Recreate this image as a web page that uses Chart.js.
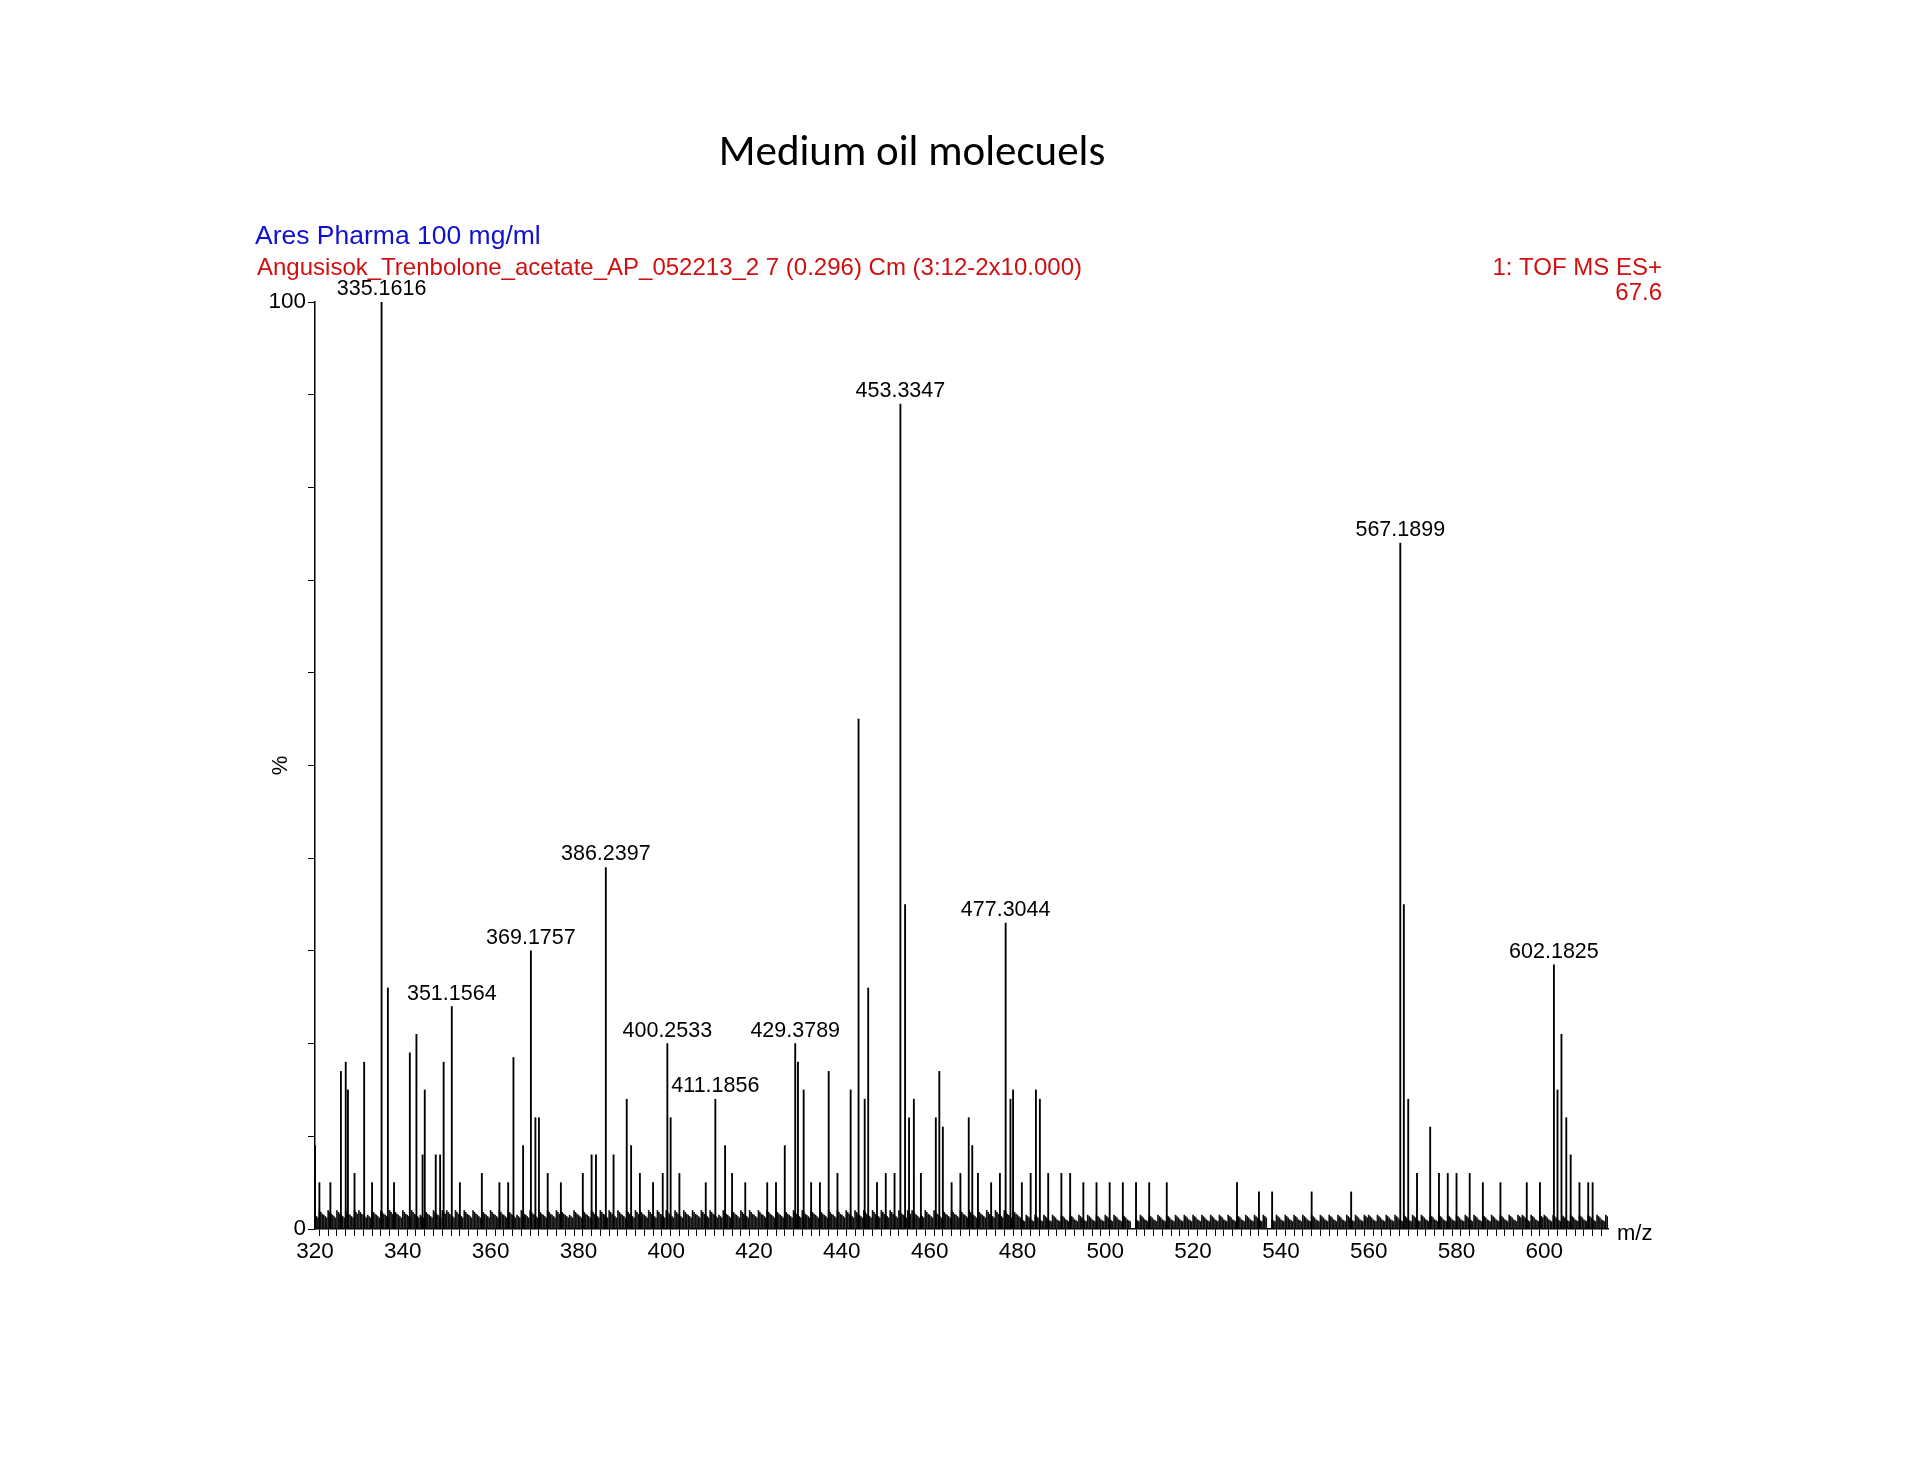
<!DOCTYPE html>
<html>
<head>
<meta charset="utf-8">
<script src="https://cdn.jsdelivr.net/npm/chart.js@4.4.0/dist/chart.umd.min.js"></script>
<style>
  html, body { margin: 0; background: #fff; }
  #wrap { width: 1920px; height: 1484px; }
</style>
</head>
<body>
<div id="wrap"><canvas id="c"></canvas></div>
<script>
// labelled peaks
const labelMz = [335.1616, 351.1564, 369.1757, 386.2397, 400.2533, 411.1856, 429.3789, 453.3347, 477.3044, 567.1899, 602.1825];
const labelPct = [100, 24, 30, 39, 20, 14, 20, 89, 33, 74, 28.5];

// other visible peaks
const peakMz = [320.0, 321.0, 325.9, 327.0, 327.5, 331.2, 336.6, 341.6, 343.1, 345.0, 349.3, 365.2, 367.4, 370.2, 371.0,
  388.0, 391.0, 392.0, 399.2, 401.0, 413.4, 427.0, 430.0, 431.3, 437.0, 442.0, 443.8, 445.2, 446.0, 454.4, 455.3, 456.4,
  461.4, 462.2, 463.0, 468.9, 469.7, 478.4, 479.0, 484.2, 485.1, 568.0, 569.0, 574.0, 583.0, 603.0, 603.9, 605.0, 606.0,
  323.5, 329.0, 333.0, 338.0, 344.5, 347.5, 348.5, 353.0, 358.0, 362.0, 364.0, 373.0, 376.0, 381.0, 383.0, 384.0, 394.0,
  397.0, 403.0, 409.0, 415.0, 418.0, 423.0, 425.0, 433.0, 435.0, 439.0, 448.0, 450.0, 452.0, 458.0, 465.0, 467.0, 471.0,
  474.0, 476.0, 481.0, 483.0, 487.0, 490.0, 492.0, 495.0, 498.0, 501.0, 504.0, 507.0, 510.0, 514.0, 530.0, 535.0, 538.0,
  547.0, 556.0, 571.0, 576.0, 578.0, 580.0, 586.0, 590.0, 596.0, 599.0, 608.0, 610.0, 611.0];
const peakPct = [9, 5, 17, 18, 15, 18, 26, 19, 21, 15, 18, 18.5, 9, 12, 12,
  8, 14, 9, 6, 12, 9, 9, 18, 15, 17, 15, 55, 14, 26, 35, 12, 14,
  12, 17, 11, 12, 9, 14, 15, 15, 14, 35, 14, 11, 6, 15, 21, 12, 8,
  5, 6, 5, 5, 8, 8, 8, 5, 6, 5, 5, 6, 5, 6, 8, 8, 6,
  5, 6, 5, 6, 5, 5, 5, 5, 5, 6, 5, 6, 6, 6, 5, 6, 6,
  5, 6, 5, 6, 6, 6, 6, 5, 5, 5, 5, 5, 5, 5, 5, 4, 4,
  4, 4, 6, 6, 6, 6, 5, 5, 5, 5, 5, 5, 5];

// baseline grass, one digit per m/z unit from 320 (value in % *0.5)
const grassStart = 320;
const grassHeights = ('3434343434433434344343433434344343434343' + '4343433434343434433434343434343434434343' +
  '4343434343433434343434343434343434343434' + '3434343434343434433434343434343434343434' +
  '3232323232323232323232323202323232323232' + '3232323232323232302323232323232323232323' +
  '3232323232323232323232323232323232332323' + '323232323232323').split('').map(Number);

const noise = [];
grassHeights.forEach((h, i) => {
  noise.push({ x: grassStart + i, y: h * 0.5 });
  noise.push({ x: grassStart + i + 0.33, y: h * 0.45 });
  noise.push({ x: grassStart + i + 0.66, y: h * 0.4 });
});

const peaks = peakMz.map((m, i) => ({ x: m, y: peakPct[i] }))
  .concat(labelMz.map((m, i) => ({ x: m, y: labelPct[i] })));

const textPlugin = {
  id: 'texts',
  afterDraw(chart) {
    const ctx = chart.ctx;
    const xs = chart.scales.x, ys = chart.scales.y;
    ctx.save();
    ctx.textBaseline = 'alphabetic';
    ctx.fillStyle = '#000';
    ctx.font = '43px Calibri, Carlito, "Open Sans", sans-serif';
    ctx.textAlign = 'center';
    ctx.fillText('Medium oil molecuels', 912, 165);
    ctx.textAlign = 'left';
    ctx.font = '26.5px "Liberation Sans", Arial, sans-serif';
    ctx.fillStyle = '#1010d0';
    ctx.fillText('Ares Pharma 100 mg/ml', 255, 244);
    ctx.fillStyle = '#d01010';
    ctx.font = '24px "Liberation Sans", Arial, sans-serif';
    ctx.fillText('Angusisok_Trenbolone_acetate_AP_052213_2 7 (0.296) Cm (3:12-2x10.000)', 257, 275);
    ctx.textAlign = 'right';
    ctx.fillText('1: TOF MS ES+', 1662, 275);
    ctx.fillText('67.6', 1662, 300);
    ctx.fillStyle = '#000';
    ctx.font = '21.5px "Liberation Sans", Arial, sans-serif';
    ctx.textAlign = 'center';
    labelMz.forEach((m, i) => {
      ctx.fillText(m.toFixed(4), xs.getPixelForValue(m), ys.getPixelForValue(labelPct[i]) - 7);
    });
    ctx.font = '22px "Liberation Sans", Arial, sans-serif';
    ctx.textAlign = 'left';
    ctx.fillText('m/z', 1617, 1240);
    ctx.restore();
  }
};

new Chart(document.getElementById('c'), {
  type: 'bar',
  data: {
    datasets: [
      { data: peaks, backgroundColor: '#000', barThickness: 1.2, grouped: false },
      { data: noise, backgroundColor: '#111', barThickness: 1, grouped: false }
    ]
  },
  options: {
    responsive: true,
    maintainAspectRatio: false,
    animation: false,
    layout: { padding: { left: 268, right: 312, top: 302, bottom: 195 } },
    plugins: { legend: { display: false }, tooltip: { enabled: false }, title: { display: false } },
    scales: {
      x: {
        type: 'linear', min: 320, max: 614.5, offset: false,
        afterFit: s => { s.height = 60; },
        afterBuildTicks: s => {
          const t = [];
          for (let v = 320; v <= 614; v += 2) t.push({ value: v });
          s.ticks = t;
        },
        border: { color: '#000', width: 1.5 },
        grid: { drawOnChartArea: false, tickLength: 7, color: '#000', tickColor: '#000' },
        ticks: {
          autoSkip: false, maxRotation: 0, color: '#000', padding: 2,
          font: { family: '"Liberation Sans", Arial, sans-serif', size: 22.5 },
          callback: v => (v % 20 === 0 ? String(v) : '')
        }
      },
      y: {
        min: 0, max: 100,
        afterFit: s => { s.width = 47; },
        border: { color: '#000', width: 1.5 },
        grid: { drawOnChartArea: false, tickLength: 7, color: '#000' },
        ticks: {
          stepSize: 10, autoSkip: false, color: '#000', padding: 2,
          font: { family: '"Liberation Sans", Arial, sans-serif', size: 22.5 },
          callback: v => (v === 0 || v === 100 ? String(v) : '')
        },
        title: { display: true, text: '%', color: '#000', padding: 0,
          font: { family: '"Liberation Sans", Arial, sans-serif', size: 22 } }
      }
    }
  },
  plugins: [textPlugin]
});
</script>
</body>
</html>
